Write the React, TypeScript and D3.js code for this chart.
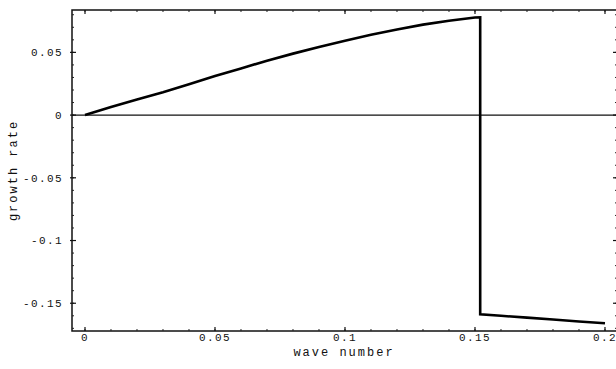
import React from 'react';
import * as d3 from 'd3';

// growth-rate curve
const waveNumber = [0, 0.01, 0.02, 0.03, 0.04, 0.05, 0.06, 0.07, 0.08, 0.09, 0.1, 0.11, 0.12, 0.13, 0.14, 0.15, 0.152,
  0.152, 0.16, 0.17, 0.18, 0.19, 0.2];
const growthRate = [0, 0.0064, 0.0124, 0.0182, 0.0246, 0.0311, 0.0372, 0.0434, 0.049, 0.0543, 0.0592, 0.064, 0.0682,
  0.0721, 0.0752, 0.0778, 0.078, -0.1588, -0.16, -0.1615, -0.163, -0.1645, -0.166];

const xTicks = [0, 0.05, 0.1, 0.15, 0.2];
const xTickLabels = ['0', '0.05', '0.1', '0.15', '0.2'];
const yTicks = [0.05, 0, -0.05, -0.1, -0.15];
const yTickLabels = ['0.05', '0', '-0.05', '-0.1', '-0.15'];
const xMinor = d3.range(0, 21).map(i => i / 100);
const yMinor = d3.range(-17, 9).map(i => i / 100);

const W = 616;
const H = 369;
const left = 72, right = 617, top = 10, bottom = 331;

export default function App() {
  const x = d3.scaleLinear().domain([-0.005, 0.20462]).range([left, right]);
  const y = d3.scaleLinear().domain([-0.17213, 0.08378]).range([bottom, top]);

  const pts = waveNumber.map((w, i) => [w, growthRate[i]] as [number, number]);
  const line = d3.line<[number, number]>().x(d => x(d[0])).y(d => y(d[1]));

  const font = '"Liberation Mono", "Courier New", monospace';

  return (
    <svg width={W} height={H} style={{ position: 'absolute', left: 0, top: 0, background: '#fff' }}
      fontFamily={font}>
      {/* frame */}
      <rect x={left} y={top} width={right - left} height={bottom - top} fill="none" stroke="#111" strokeWidth={1.5} />

      {/* zero line */}
      <line x1={left} x2={right} y1={y(0)} y2={y(0)} stroke="#111" strokeWidth={1.2} />

      {/* minor ticks */}
      {xMinor.map(t => (
        <g key={'xm' + t}>
          <line x1={x(t)} x2={x(t)} y1={bottom} y2={bottom - 2} stroke="#222" strokeWidth={1} />
          <line x1={x(t)} x2={x(t)} y1={top} y2={top + 2} stroke="#222" strokeWidth={1} />
        </g>
      ))}
      {yMinor.map(t => (
        <g key={'ym' + t}>
          <line x1={left} x2={left + 2} y1={y(t)} y2={y(t)} stroke="#222" strokeWidth={1} />
          <line x1={right} x2={right - 2} y1={y(t)} y2={y(t)} stroke="#222" strokeWidth={1} />
        </g>
      ))}

      {/* major ticks + labels */}
      {xTicks.map((t, i) => (
        <g key={'xt' + t}>
          <line x1={x(t)} x2={x(t)} y1={bottom} y2={bottom - 4} stroke="#111" strokeWidth={1.2} />
          <line x1={x(t)} x2={x(t)} y1={top} y2={top + 4} stroke="#111" strokeWidth={1.2} />
          <text x={x(t)} y={341} textAnchor="middle" fontSize={11} letterSpacing={1.4} fill="#111">
            {xTickLabels[i]}
          </text>
        </g>
      ))}
      {yTicks.map((t, i) => (
        <g key={'yt' + t}>
          <line x1={left - 2} x2={left + 4} y1={y(t)} y2={y(t)} stroke="#111" strokeWidth={1.2} />
          <line x1={right} x2={right - 4} y1={y(t)} y2={y(t)} stroke="#111" strokeWidth={1.2} />
          <text x={63} y={y(t)} dy="0.35em" textAnchor="end" fontSize={11} letterSpacing={1.4} fill="#111">
            {yTickLabels[i]}
          </text>
        </g>
      ))}

      {/* curve */}
      <path d={line(pts) ?? ''} fill="none" stroke="#000" strokeWidth={2.6} strokeLinejoin="miter" />

      {/* axis labels */}
      <text x={344} y={356} textAnchor="middle" fontSize={12} letterSpacing={2} fill="#111">wave number</text>
      <text transform={`translate(17,${(top + bottom) / 2}) rotate(-90)`} textAnchor="middle" fontSize={12}
        letterSpacing={2} fill="#111">growth rate</text>
    </svg>
  );
}
